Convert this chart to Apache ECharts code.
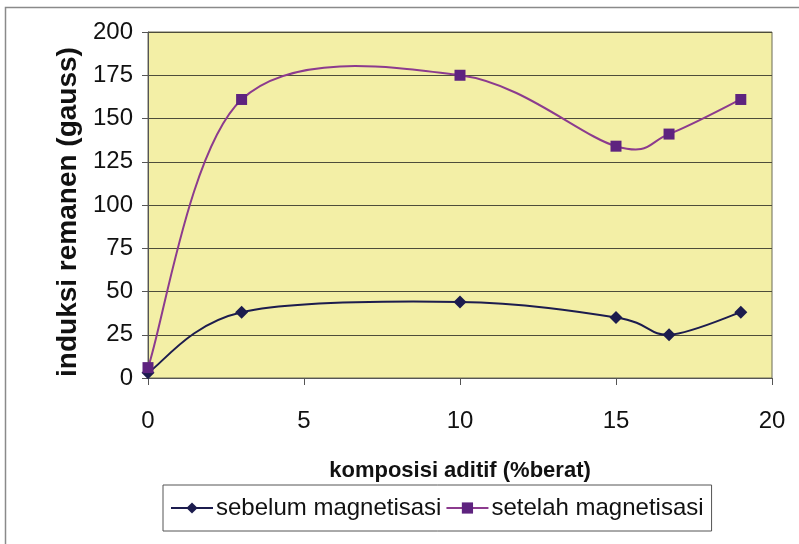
<!DOCTYPE html>
<html>
<head>
<meta charset="utf-8">
<script src="https://cdn.jsdelivr.net/npm/echarts@6/dist/echarts.min.js"></script>
<style>html,body{margin:0;padding:0;background:#fff}#c{width:799px;height:544px}</style>
</head>
<body>
<div id="c"></div>
<script>
var xValues = [0, 3, 10, 15, 16.7, 19];
var sebelum = [3, 38, 44, 35, 25, 38];
var setelah = [6, 161, 175, 134, 141, 161];
var seriesNames = ['sebelum magnetisasi', 'setelah magnetisasi'];
var xTitle = 'komposisi aditif (%berat)';
var yTitle = 'induksi remanen (gauss)';

function pairs(xs, ys) { return xs.map(function (x, i) { return [x, ys[i]]; }); }

// Excel-like smoothed curve: one cubic Bezier segment per data interval,
// control points from neighbouring data points, positioned via api.coord.
function curveSeries(id, ys, color) {
  return {
    type: 'custom', name: id, silent: true, z: 2,
    data: pairs(xValues.slice(0, -1), ys.slice(0, -1)),
    encode: {x: 0, y: 1},
    renderItem: function (params, api) {
      var i = params.dataIndex, n = xValues.length;
      function P(k) { k = Math.max(0, Math.min(n - 1, k)); return api.coord([xValues[k], ys[k]]); }
      var p0 = P(i - 1), p1 = P(i), p2 = P(i + 1), p3 = P(i + 2);
      var c1 = [p1[0] + (p2[0] - p0[0]) / 6, p1[1] + (p2[1] - p0[1]) / 6];
      var c2 = [p2[0] - (p3[0] - p1[0]) / 6, p2[1] - (p3[1] - p1[1]) / 6];
      return {
        type: 'bezierCurve',
        shape: {x1: p1[0], y1: p1[1], x2: p2[0], y2: p2[1], cpx1: c1[0], cpy1: c1[1], cpx2: c2[0], cpy2: c2[1]},
        style: {stroke: color, lineWidth: 2, fill: 'none'}
      };
    }
  };
}

var chart = echarts.init(document.getElementById('c'), null, {renderer: 'canvas'});
var font = 'Liberation Sans, Arial, sans-serif';
var colA = '#1c1c4e', colB = '#8c3b8e', colBm = '#5e237f';
chart.setOption({
  animation: false,
  backgroundColor: '#ffffff',
  graphic: [{
    type: 'rect', silent: true, z: -10,
    shape: {x: 5.5, y: 7.5, width: 810, height: 560},
    style: {fill: 'none', stroke: '#8a8a8a', lineWidth: 1.5}
  }],
  grid: {
    left: 148, right: 27, top: 32, bottom: 166,
    show: true, backgroundColor: '#F3EFA6', borderColor: '#6b6b55', borderWidth: 1
  },
  legend: {
    left: 163, top: 485,
    padding: [11, 8, 11, 7],
    itemGap: 4,
    itemWidth: 42, itemHeight: 14,
    borderColor: '#555', borderWidth: 1,
    backgroundColor: '#fff',
    textStyle: {fontFamily: font, fontSize: 24, color: '#111', padding: [0, 0, 0, -2]},
    data: [
      {name: seriesNames[0], lineStyle: {color: colA, width: 2, opacity: 1}},
      {name: seriesNames[1], lineStyle: {color: colB, width: 2, opacity: 1}}
    ]
  },
  xAxis: {
    type: 'value', min: 0, max: 20, interval: 5,
    name: xTitle, nameLocation: 'middle', nameGap: 82,
    nameTextStyle: {fontFamily: font, fontSize: 22, fontWeight: 'bold', color: '#111'},
    axisLine: {show: true, lineStyle: {color: '#555', width: 1}},
    axisTick: {show: true, length: 7, lineStyle: {color: '#555'}},
    axisLabel: {fontFamily: font, fontSize: 24, color: '#111', margin: 31},
    splitLine: {show: false}
  },
  yAxis: {
    type: 'value', min: 0, max: 200, interval: 25,
    name: yTitle, nameLocation: 'middle', nameGap: 54, nameRotate: 90,
    nameTextStyle: {fontFamily: font, fontSize: 28, fontWeight: 'bold', color: '#111', padding: [0, 14, 0, 0]},
    axisLine: {show: true, lineStyle: {color: '#555', width: 1}},
    axisTick: {show: true, length: 6, lineStyle: {color: '#555'}},
    axisLabel: {fontFamily: font, fontSize: 24, color: '#111', margin: 15},
    splitLine: {show: true, lineStyle: {color: '#4d4d3a', width: 1}}
  },
  series: [
    curveSeries('curveA', sebelum, colA),
    curveSeries('curveB', setelah, colB),
    {
      name: seriesNames[0], type: 'line', data: pairs(xValues, sebelum), z: 3,
      symbol: 'diamond', symbolSize: 13, showAllSymbol: true,
      lineStyle: {color: colA, width: 2, opacity: 0},
      itemStyle: {color: colA}
    }, {
      name: seriesNames[1], type: 'line', data: pairs(xValues, setelah), z: 4,
      symbol: 'rect', symbolSize: 11, showAllSymbol: true,
      lineStyle: {color: colB, width: 2, opacity: 0},
      itemStyle: {color: colBm}
    }
  ]
});
</script>
</body>
</html>
